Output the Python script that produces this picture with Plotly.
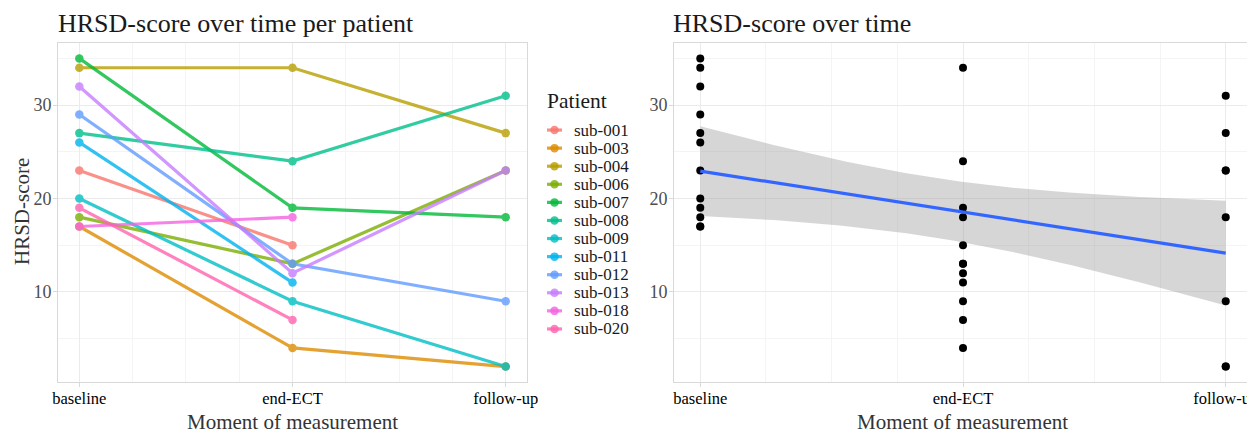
import numpy as np
import plotly.graph_objects as go

# ---------------- data ----------------
moments = ["baseline", "end-ECT", "follow-up"]
moment_pos = [1, 2, 3]
patients = ["sub-001", "sub-003", "sub-004", "sub-006", "sub-007", "sub-008",
            "sub-009", "sub-011", "sub-012", "sub-013", "sub-018", "sub-020"]
baseline = [23, 17, 34, 18, 35, 27, 20, 26, 29, 32, 17, 19]
end_ect = [15, 4, 34, 13, 19, 24, 9, 11, 13, 12, 18, 7]
follow_up = [None, 2, 27, 23, 18, 31, 2, None, 9, 23, None, None]
colors = ["#F8766D", "#DE8C00", "#B79F00", "#7CAE00", "#00BA38", "#00C08B",
          "#00BFC4", "#00B4F0", "#619CFF", "#C77CFF", "#F564E3", "#FF64B0"]
y_ticks = [10, 20, 30]

W, H = 1255, 434
OFF = 8          # default page body margin
FW, FH = W - OFF, H - OFF
SERIF = "Liberation Serif"

def px(p):
    return (p - OFF) / FW

def py(p):
    return 1 - (p - OFF) / FH

fig = go.Figure()

# ---------------- left panel: per patient ----------------
for i, p in enumerate(patients):
    ys = [baseline[i], end_ect[i], follow_up[i]]
    xs = [moment_pos[k] for k in range(3) if ys[k] is not None]
    ys = [v for v in ys if v is not None]
    fig.add_trace(go.Scatter(
        x=xs, y=ys, mode="lines+markers", name=p, showlegend=False,
        line=dict(color=colors[i], width=3.2),
        marker=dict(color=colors[i], size=8.5),
        opacity=0.8, xaxis="x", yaxis="y"))

# ---------------- right panel: pooled with lm fit ----------------
all_x, all_y = [], []
for k, series in enumerate([baseline, end_ect, follow_up]):
    for v in series:
        if v is not None:
            all_x.append(moment_pos[k])
            all_y.append(v)
ax = np.array(all_x, float)
ay = np.array(all_y, float)
n = len(ax)
xbar = ax.mean()
sxx = ((ax - xbar) ** 2).sum()
slope = ((ax - xbar) * (ay - ay.mean())).sum() / sxx
icpt = ay.mean() - slope * xbar
resid = ay - (icpt + slope * ax)
s = np.sqrt((resid ** 2).sum() / (n - 2))
t_crit = 2.042  # t(0.975, df=30)
grid = np.linspace(1, 3, 80)
fit = icpt + slope * grid
se = s * np.sqrt(1 / n + (grid - xbar) ** 2 / sxx)
upper = fit + t_crit * se
lower = fit - t_crit * se

fig.add_trace(go.Scatter(x=grid, y=upper, mode="lines", line=dict(width=0),
                         showlegend=False, hoverinfo="skip", xaxis="x2", yaxis="y2"))
fig.add_trace(go.Scatter(x=grid, y=lower, mode="lines", line=dict(width=0),
                         fill="tonexty", fillcolor="rgba(153,153,153,0.4)",
                         showlegend=False, hoverinfo="skip", xaxis="x2", yaxis="y2"))
fig.add_trace(go.Scatter(x=ax, y=ay, mode="markers",
                         marker=dict(color="black", size=8),
                         showlegend=False, xaxis="x2", yaxis="y2"))
fig.add_trace(go.Scatter(x=grid, y=fit, mode="lines",
                         line=dict(color="#3366FF", width=3.2),
                         showlegend=False, xaxis="x2", yaxis="y2"))

# ---------------- legend as small subplot ----------------
for i, p in enumerate(patients):
    fig.add_trace(go.Scatter(x=[2, 17], y=[i, i], mode="lines",
                             line=dict(color=colors[i], width=3.2), opacity=0.8,
                             showlegend=False, hoverinfo="skip", xaxis="x3", yaxis="y3"))
    fig.add_trace(go.Scatter(x=[9.5], y=[i], mode="markers",
                             marker=dict(color=colors[i], size=8.5), opacity=0.8,
                             showlegend=False, hoverinfo="skip", xaxis="x3", yaxis="y3"))
    fig.add_annotation(x=27, y=i, xref="x3", yref="y3", text=p, showarrow=False,
                       xanchor="left", yanchor="middle",
                       font=dict(family=SERIF, size=17, color="#1a1a1a"))

# ---------------- axes ----------------
grid_major = "#EBEBEB"
grid_minor = "#F4F4F4"
border = "#D9D9D9"
ydom = [py(382), py(43)]

def xaxis_cfg(dom):
    return dict(domain=dom, range=[0.9, 3.1], tickmode="array",
                tickvals=moment_pos, ticktext=moments, showgrid=True,
                gridcolor=grid_major, gridwidth=1, zeroline=False,
                showline=True, mirror=True, linecolor=border, linewidth=1,
                ticks="outside", ticklen=4, tickcolor=border, ticklabelstandoff=-3,
                ticklabeloverflow="allow",
                tickfont=dict(family=SERIF, size=16.5, color="black"),
                minor=dict(dtick=0.25, tick0=1, showgrid=True, gridcolor=grid_minor, gridwidth=1),
                automargin=False, fixedrange=True)

def yaxis_cfg(anchor):
    return dict(domain=ydom, range=[0.35, 36.65], tickmode="array", tickvals=y_ticks,
                showgrid=True, gridcolor=grid_major, gridwidth=1, zeroline=False,
                showline=True, mirror=True, linecolor=border, linewidth=1,
                ticks="outside", ticklen=4, tickcolor=border, ticklabelstandoff=-2,
                anchor=anchor,
                tickfont=dict(family=SERIF, size=18, color="#4D4D4D"),
                minor=dict(dtick=5, tick0=0, showgrid=True, gridcolor=grid_minor, gridwidth=1),
                automargin=False, fixedrange=True)

fig.update_layout(
    width=FW, height=FH,
    margin=dict(l=0, r=0, t=0, b=0),
    paper_bgcolor="white", plot_bgcolor="white",
    showlegend=False,
    xaxis=dict(anchor="y", **xaxis_cfg([px(58), px(527)])),
    yaxis=yaxis_cfg("x"),
    xaxis2=dict(anchor="y2", **xaxis_cfg([px(674), px(1252)])),
    yaxis2=yaxis_cfg("x2"),
    xaxis3=dict(domain=[px(545), px(645)], range=[0, 100], visible=False,
                anchor="y3", fixedrange=True),
    yaxis3=dict(domain=[py(338), py(121)], range=[11.5, -0.5], visible=False,
                anchor="x3", fixedrange=True),
)

# ---------------- titles ----------------
def ann(text, x, y, size, color="#1a1a1a", xanchor="left", yanchor="middle", angle=0):
    fig.add_annotation(text=text, x=px(x), y=py(y), xref="paper", yref="paper",
                       showarrow=False, xanchor=xanchor, yanchor=yanchor,
                       textangle=angle, font=dict(family=SERIF, size=size, color=color))

ann("HRSD-score over time per patient", 56, 24, 26)
ann("HRSD-score over time", 671, 24, 26)
ann("Moment of measurement", 292, 422, 21, color="#333333", xanchor="center")
ann("Moment of measurement", 963, 422, 21, color="#333333", xanchor="center")
ann("HRSD-score", 22, 212, 21, color="#333333", xanchor="center", angle=-90)
ann("Patient", 545, 101, 21.5, color="#1a1a1a")

fig.write_html("out.html")
